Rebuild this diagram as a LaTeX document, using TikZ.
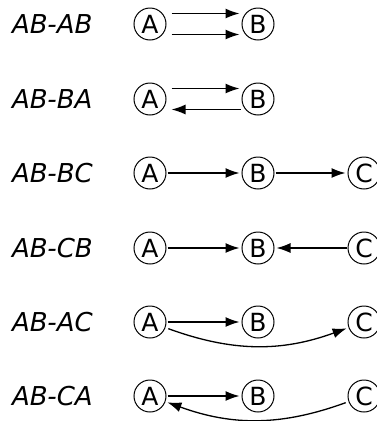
\documentclass[tikz,border=0pt]{standalone}
\usepackage{fontspec}
\setmainfont{DejaVu Sans}
\usetikzlibrary{arrows.meta}
\tikzset{>={Latex[length=14pt,width=10pt]}}
\tikzstyle{vert}  =[circle,draw,line width=1pt,inner sep=0pt,minimum size=32pt,
                    font=\fontsize{25}{30}\selectfont]
\tikzstyle{case}  =[anchor=west,inner sep=0pt,font=\fontsize{26}{31}\selectfont\itshape]
\tikzstyle{link}  =[->,line width=1.3pt,shorten <=1pt,shorten >=2pt]
\begin{document}
\begin{tikzpicture}[x=1pt,y=-1pt]
  \useasboundingbox (0,0) rectangle (377,421);

  % row labels
  \node[case] (l1) at (12,24)  {AB-AB};
  \node[case] (l2) at (12,99)  {AB-BA};
  \node[case] (l3) at (12,173) {AB-BC};
  \node[case] (l4) at (12,248) {AB-CB};
  \node[case] (l5) at (12,322) {AB-AC};
  \node[case] (l6) at (12,396) {AB-CA};

  % AB-AB
  \node[vert] (A1) at (150,24) {A};
  \node[vert] (B1) at (258,24) {B};
  \draw[link,shorten <=5pt] ([yshift=10.5pt]A1.east) -- ([yshift=10.5pt]B1.west);
  \draw[link,shorten <=5pt] ([yshift=-10.5pt]A1.east) -- ([yshift=-10.5pt]B1.west);

  % AB-BA
  \node[vert] (A2) at (150,99) {A};
  \node[vert] (B2) at (258,99) {B};
  \draw[link,shorten <=5pt] ([yshift=10.5pt]A2.east) -- ([yshift=10.5pt]B2.west);
  \draw[link,shorten >=5pt] ([yshift=-10.5pt]B2.west) -- ([yshift=-10.5pt]A2.east);

  % AB-BC
  \node[vert] (A3) at (150,173) {A};
  \node[vert] (B3) at (258,173) {B};
  \node[vert] (C3) at (364,173) {C};
  \draw[link] (A3) -- (B3);
  \draw[link] (B3) -- (C3);

  % AB-CB
  \node[vert] (A4) at (150,248) {A};
  \node[vert] (B4) at (258,248) {B};
  \node[vert] (C4) at (364,248) {C};
  \draw[link] (A4) -- (B4);
  \draw[link] (C4) -- (B4);

  % AB-AC
  \node[vert] (A5) at (150,322) {A};
  \node[vert] (B5) at (258,322) {B};
  \node[vert] (C5) at (364,322) {C};
  \draw[link] (A5) -- (B5);
  \draw[link,shorten <=3pt] (A5) to[bend right=20] (C5);

  % AB-CA
  \node[vert] (A6) at (150,396) {A};
  \node[vert] (B6) at (258,396) {B};
  \node[vert] (C6) at (364,396) {C};
  \draw[link] (A6) -- (B6);
  \draw[link,shorten <=3pt] (C6) to[bend left=20] (A6);
\end{tikzpicture}
\end{document}
